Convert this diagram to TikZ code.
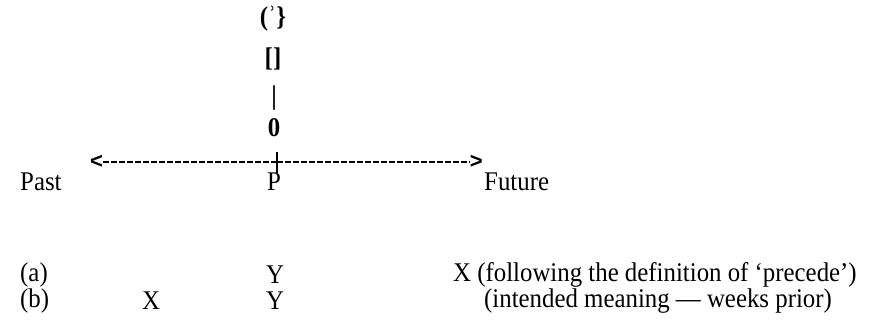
\documentclass[tikz,border=0pt]{standalone}
\usepackage{fontspec}
\setmainfont[FakeStretch=0.92]{Liberation Serif}
\newfontfamily\arrowfont{Liberation Sans}
\begin{document}
\begin{tikzpicture}[x=1pt,y=-1pt,
  txt/.style={inner sep=0pt,font=\fontsize{27}{30}\selectfont},
  sym/.style={inner sep=0pt,font=\fontsize{27}{30}\selectfont\bfseries},
  tip/.style={inner sep=0pt,font=\fontsize{22}{26}\selectfont\arrowfont\bfseries},
  axis/.style={line width=2.6pt,dash pattern=on 6pt off 2pt}]
\useasboundingbox (0,0) rectangle (870,329);
\node[sym] (s1) at (273,19) {(ʾ\}};
\node[sym] (s2) at (273,59) {[]};
\node[sym] (s3) at (274,98) {\textbf{|}};
\node[sym] (s4) at (274,128) {0};
\node[tip,anchor=west] (la) at (90,162) {<};
\node[tip,anchor=east] (ra) at (483,162) {>};
\coordinate (mid) at (277,162);
\draw[axis] (la.east) -- (mid);
\draw[axis] (mid) -- (ra.west);
\coordinate (tt) at (277,152);
\coordinate (tb) at (277,173);
\draw[line width=1.6pt] (tt) -- (tb);
\node[txt,anchor=west] (past) at (20,182) {Past};
\node[txt] (p) at (274,182) {P};
\node[txt,anchor=west] (fut) at (484,182) {Future};
\node[txt,anchor=west] (a) at (20,275) {(a)};
\node[txt] (ay) at (275,275) {Y};
\node[txt,anchor=west] (ax) at (453,275) {X (following the definition of ‘precede’)};
\node[txt,anchor=west] (b) at (20,301) {(b)};
\node[txt] (bx) at (151,301) {X};
\node[txt] (by) at (275,301) {Y};
\node[txt,anchor=west] (bt) at (484,301) {(intended meaning — weeks prior)};
\end{tikzpicture}
\end{document}
